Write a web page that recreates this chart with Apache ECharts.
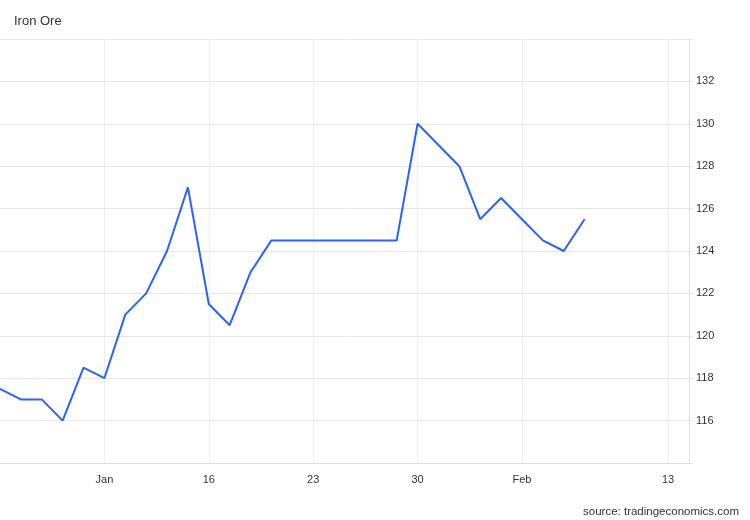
<!DOCTYPE html>
<html>
<head>
<meta charset="utf-8">
<script src="https://cdn.jsdelivr.net/npm/echarts@6/dist/echarts.min.js"></script>
<style>
  html, body { margin: 0; padding: 0; background: #fff; }
  #chart { width: 750px; height: 520px; }
</style>
</head>
<body>
<div id="chart"></div>
<script>
// trading-day slots, the last few are empty (future dates)
const slotCount = 34
const tickIdx = [5, 10, 15, 20, 25, 32]
const tickLabels = ['Jan', '16', '23', '30', 'Feb', '13']
// Iron Ore price per trading day
const prices = [117.5, 117, 117, 116, 118.5, 118, 121, 122, 124, 127,
  121.5, 120.5, 123, 124.5, 124.5, 124.5, 124.5, 124.5, 124.5, 124.5,
  130, 129, 128, 125.5, 126.5, 125.5, 124.5, 124, 125.5]
const yTicks = [116, 118, 120, 122, 124, 126, 128, 130, 132]

const slots = []
for (let i = 0; i < slotCount; i++) slots.push(String(i))

const chart = echarts.init(document.getElementById('chart'))
chart.setOption({
  animation: false,
  textStyle: { fontFamily: 'Liberation Sans, Arial, sans-serif' },
  title: [{
    text: 'Iron Ore',
    left: 9,
    top: 10,
    textStyle: { fontSize: 13, fontWeight: 'normal', color: '#333' }
  }, {
    text: 'source: tradingeconomics.com',
    right: 6,
    top: 501,
    textStyle: { fontSize: 11.5, fontWeight: 'normal', color: '#333' }
  }],
  grid: { left: 0, right: 61, top: 39, bottom: 57, containLabel: false },
  xAxis: {
    type: 'category',
    data: slots,
    boundaryGap: false,
    axisLine: { show: true, lineStyle: { color: '#e0e0e0', width: 1 } },
    axisTick: { show: false },
    axisLabel: {
      interval: (i) => tickIdx.indexOf(i) >= 0,
      formatter: (v, i) => {
        const k = tickIdx.indexOf(Number(v))
        return k >= 0 ? tickLabels[k] : ''
      },
      color: '#333',
      fontSize: 11,
      margin: 11
    },
    splitLine: {
      show: true,
      interval: (i) => tickIdx.indexOf(i) >= 0,
      lineStyle: { color: '#eeeeee', width: 1 }
    }
  },
  yAxis: {
    type: 'value',
    position: 'right',
    min: 114,
    max: 134,
    interval: 2,
    axisLine: { show: true, lineStyle: { color: '#e0e0e0', width: 1 } },
    axisTick: { show: true, length: 4, lineStyle: { color: '#e0e0e0' } },
    axisLabel: {
      color: '#333',
      fontSize: 11,
      margin: 7,
      formatter: (v) => (yTicks.indexOf(v) >= 0 ? String(v) : '')
    },
    splitLine: { show: true, lineStyle: { color: '#e6e6e6', width: 1 } }
  },
  series: [{
    name: 'Iron Ore',
    type: 'line',
    data: prices,
    showSymbol: false,
    symbol: 'none',
    lineStyle: { color: '#2962ff', width: 2 },
    itemStyle: { color: '#2962ff' }
  }]
})
</script>
</body>
</html>
